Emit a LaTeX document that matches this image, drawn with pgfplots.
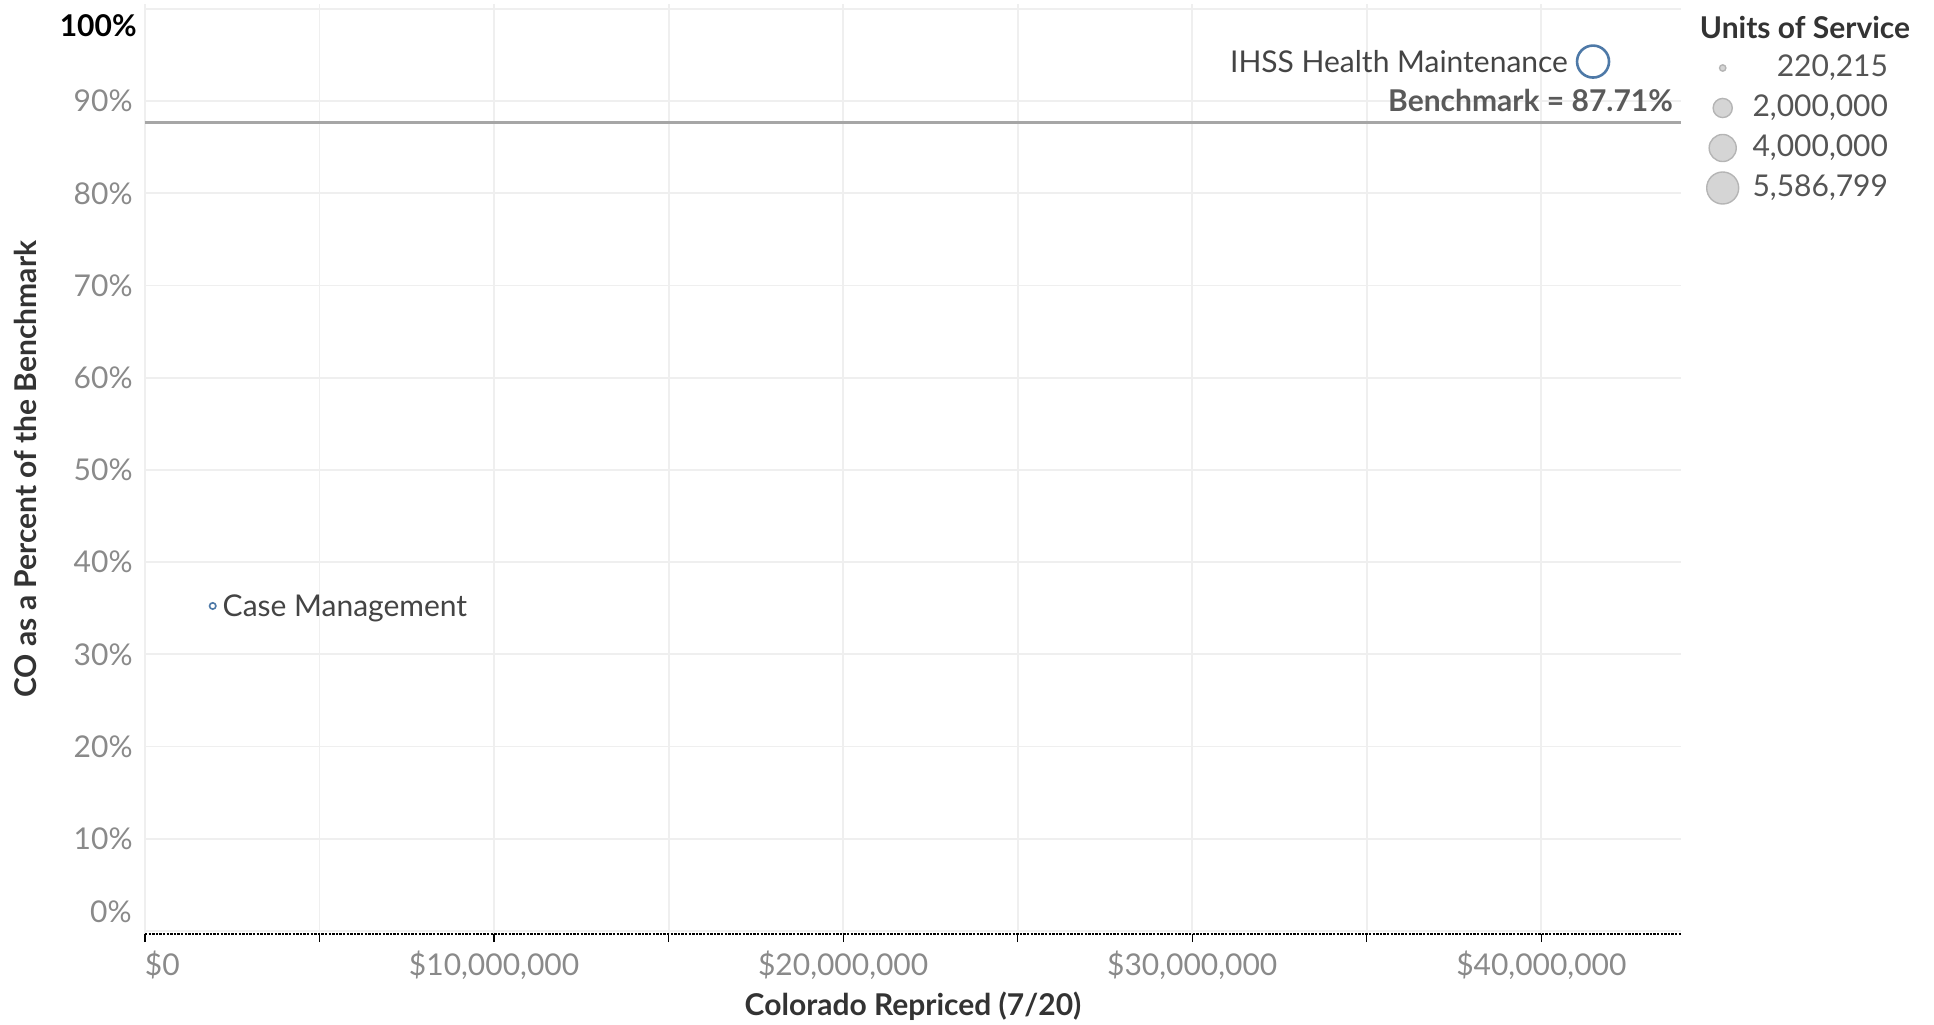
\documentclass[border=0pt]{standalone}
\usepackage{pgfplots}
\pgfplotsset{compat=1.18}
\usetikzlibrary{calc}
\usepackage{fontspec}
\setmainfont{Lato}
\definecolor{tblue}{HTML}{4E79A7}
\definecolor{tickgray}{HTML}{8A8A8A}
\definecolor{titlegray}{HTML}{333333}
\definecolor{textgray}{HTML}{444444}
\definecolor{leggray}{HTML}{555555}
\definecolor{gridgray}{HTML}{EFEFEF}
\definecolor{benchgray}{HTML}{A6A6A6}
\definecolor{benchtext}{HTML}{5A5A5A}
\definecolor{lgfill}{HTML}{D5D5D5}
\definecolor{lgdraw}{HTML}{B5B5B5}
\newcommand\fs{\fontsize{15}{18}\selectfont}
% marker radius = 8pt * sqrt(units / 5,586,799)
\pgfplotsset{
  svc/.style={only marks, mark=o, draw=tblue, mark options={draw=tblue},
    nodes near coords, point meta=explicit symbolic,
    every node near coord/.append style={inner sep=0pt, font=\fs, text=textgray}},
  lg/.style={only marks, mark=*, mark options={draw=lgdraw, fill=lgfill, line width=0.7pt},
    nodes near coords, point meta=explicit symbolic,
    every node near coord/.append style={anchor=east, xshift=83pt, inner sep=0pt, font=\fs, text=leggray}},
}

\begin{document}
\begin{tikzpicture}
\begin{axis}[name=main,
  scale only axis, width=768pt, height=464.8pt,
  xmin=0, xmax=44000000, ymin=-0.33, ymax=100.5,
  axis x line*=bottom, axis y line*=left,
  every outer x axis line/.append style={-},
  every outer y axis line/.append style={-},
  y axis line style={draw=none},
  x axis line style={black, line width=0.7pt, dash pattern=on 1.2pt off 0.6pt, -},
  xtick={0,5000000,10000000,15000000,20000000,25000000,30000000,35000000,40000000},
  xticklabels={{\makebox[0pt][l]{\$0}},{},{\$10,000,000},{},{\$20,000,000},{},{\$30,000,000},{},{\$40,000,000}},
  scaled x ticks=false, scaled y ticks=false,
  ytick={0,10,20,30,40,50,60,70,80,90,100},
  yticklabels={{},{10\%},{20\%},{30\%},{40\%},{50\%},{60\%},{70\%},{80\%},{90\%},{}},
  grid=major, major grid style={gridgray, line width=0.9pt},
  tick align=outside, major tick length=4pt,
  xtick style={black, line width=0.6pt},
  ytick style={draw=none},
  tick label style={font=\fs, text=tickgray},
  xticklabel style={anchor=base, yshift=-16.75pt},
  yticklabel style={anchor=east, inner sep=0pt, xshift=-2pt},
  xlabel={Colorado Repriced (7/20)},
  ylabel={CO as a Percent of the Benchmark},
  label style={font=\bfseries\fs, text=titlegray},
  xlabel style={at={(axis description cs:0.5,-0.0779)}, anchor=center},
  ylabel style={at={(axis description cs:-0.0775,0.5)}, anchor=center},
  clip=false,
]
% benchmark line
\addplot[benchgray, line width=1.3pt, forget plot] coordinates {(0,87.71) (44000000,87.71)};
\node[anchor=base east, yshift=5.6pt, font=\bfseries\fs, text=benchtext] at (axis cs:43970000,87.71) {Benchmark = 87.71\%};
% y labels at the ends
\node[anchor=east, inner sep=0pt, xshift=-6.5pt, yshift=9.5pt, font=\fs, text=tickgray] at (axis cs:0,0) {0\%};
\node[anchor=east, inner sep=0pt, xshift=-4pt, yshift=-8.5pt, font=\bfseries\fs, text=black] at (axis cs:0,100) {100\%};
% services (units of service: 220,215 and 5,586,799)
\addplot[svc, mark size=1.59pt, line width=0.8pt,
  every node near coord/.append style={anchor=west, xshift=4.6pt, yshift=-1pt}]
  coordinates {(1940000,35.25) [Case Management]};
\addplot[svc, mark size=8pt, line width=1.3pt,
  every node near coord/.append style={anchor=east, xshift=-11.9pt}]
  coordinates {(41480000,94.3) [IHSS Health Maintenance]};
\end{axis}

% size legend
\begin{axis}[at={($(main.south west)+(778.85pt,353pt)$)}, anchor=south west,
  scale only axis, width=20pt, height=100pt,
  xmin=-1, xmax=1, ymin=0, ymax=5, hide axis, clip=false]
\addplot[lg, mark size=1.59pt] coordinates {(0,4) [220,215]};
\addplot[lg, mark size=4.79pt] coordinates {(0,3) [2,000,000]};
\addplot[lg, mark size=6.77pt] coordinates {(0,2) [4,000,000]};
\addplot[lg, mark size=8pt] coordinates {(0,1) [5,586,799]};
\end{axis}
\node[anchor=center, font=\bfseries\fs, text=titlegray] at ($(main.south west)+(830pt,453pt)$) {Units of Service};

\pgfresetboundingbox
\path ($(main.south west)+(-72.5pt,-45pt)$) rectangle ($(main.south west)+(894.5pt,467pt)$);
\end{tikzpicture}
\end{document}
